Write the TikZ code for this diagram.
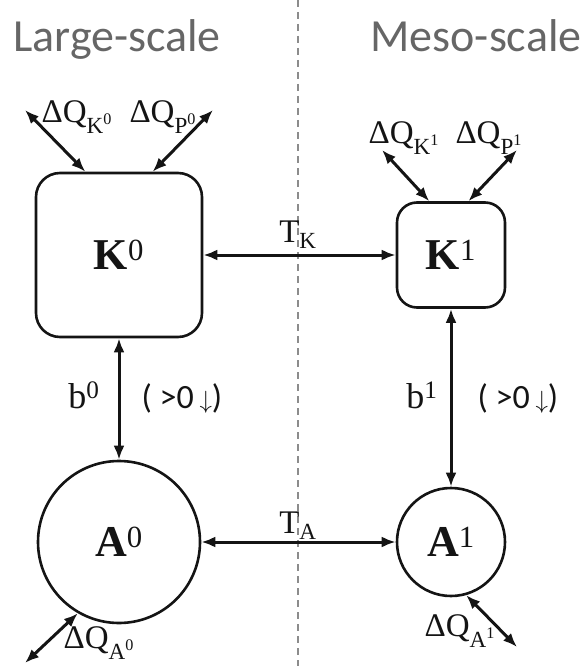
\documentclass[tikz,border=0pt]{standalone}
\usepackage{fontspec}
\usepackage{amsmath}
\usetikzlibrary{arrows.meta,positioning,calc}
\newfontfamily\calib{Carlito}
\newfontfamily\labfont{Liberation Serif}
\definecolor{ink}{HTML}{141414}
\definecolor{greytxt}{HTML}{666666}
\definecolor{divider}{HTML}{8C8C8C}
\tikzset{box/.style={draw=ink,line width=2.6pt,rounded corners=24pt,inner sep=0pt,text=ink,font=\labfont\fontsize{44}{46}\selectfont},
 pool/.style={draw=ink,line width=2.6pt,circle,inner sep=0pt,text=ink,font=\labfont\fontsize{44}{46}\selectfont},
 arr/.style={{Latex[length=14pt,width=11pt]}-{Latex[length=14pt,width=11pt]},line width=3pt,draw=ink},
 lab/.style={font=\labfont\fontsize{33}{35}\selectfont,text=ink,inner sep=0pt,anchor=base},
 note/.style={lab,font=\calib\fontsize{34}{36}\selectfont},
 title/.style={font=\calib\fontsize{46}{48}\selectfont,text=greytxt,anchor=base}}
\newcommand\lo[1]{\textsubscript{#1}}
\newcommand\hi[1]{\textsuperscript{#1}}
\begin{document}
\begin{tikzpicture}[x=1pt,y=-1pt]
\useasboundingbox (0,0) rectangle (588,666);
\draw[divider,line width=1.2pt,dash pattern=on 7pt off 5pt] (298,0) -- (298,666);
\node[title] (large) at (117,52) {Large-scale};
\node[title] (meso) at (476,52) {Meso-scale};
% stores
\node[box,minimum width=166pt,minimum height=164pt] (K0) at (119,255) {\textbf{K}\hi{0}};
\node[box,rounded corners=20pt,minimum width=108pt,minimum height=105pt] (K1) at (451,255) {\textbf{K}\hi{1}};
\node[pool,minimum size=162pt] (A0) at (119,542) {\textbf{A}\hi{0}};
\node[pool,minimum size=108pt] (A1) at (451,542) {\textbf{A}\hi{1}};
% exchanges
\draw[arr] (K0) -- (K1);
\draw[arr] (A0) -- (A1);
\draw[arr] (K0) -- (A0);
\draw[arr] (K1) -- (A1);
\node[lab] (tk) at (298,242) {T\lo{K}};
\node[lab] (ta) at (298,533) {T\lo{A}};
\node[lab,font=\labfont\fontsize{36}{38}\selectfont] (b0) at (84,408) {b\hi{0}};
\node[lab,font=\labfont\fontsize{36}{38}\selectfont] (b1) at (422,408) {b\hi{1}};
\node[note] (s0) at (182,408) {( >0\,$\downarrow$)};
\node[note] (s1) at (518,408) {( >0\,$\downarrow$)};
% sources and sinks
\foreach \n/\a/\x/\y in {K0/112/25/110,K0/68/213/110,K1/112/382/150,K1/72/517/150,A0/240/25/663,A1/286/517/647}
 {\coordinate (q\n\a) at (\x,\y); \draw[arr] (\n.\a) -- (q\n\a);}
\foreach \m/\x/\y/\t in {k0/77/122/{K\hi{0}},p0/163/122/{P\hi{0}},k1/404/143/{K\hi{1}},p1/489/143/{P\hi{1}},a0/99/648/{A\hi{0}},a1/460/636/{A\hi{1}}}
 {\node[lab] (dq\m) at (\x,\y) {ΔQ\lo{\t}};}
\end{tikzpicture}
\end{document}
